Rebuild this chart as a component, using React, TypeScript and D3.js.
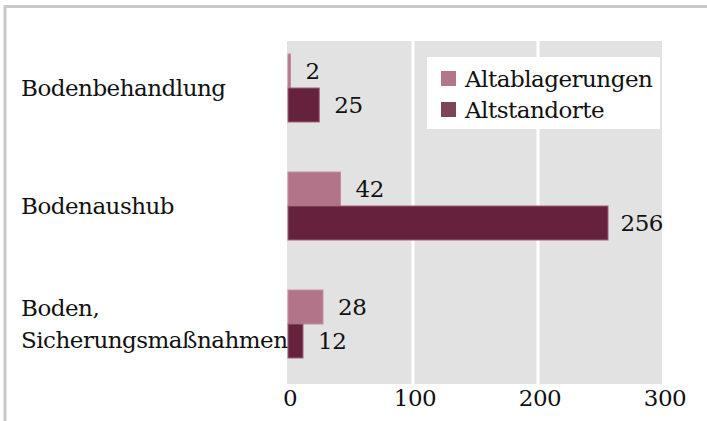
import React from "react";
import * as d3 from "d3";

const categories = ["Bodenbehandlung", "Bodenaushub", "Boden,\nSicherungsmaßnahmen"];
const seriesNames = ["Altablagerungen", "Altstandorte"];
const altablagerungen = [2, 42, 28];
const altstandorte = [25, 256, 12];
const xTicks = [0, 100, 200, 300];

const W = 707;
const H = 421;
const FONT = "'DejaVu Serif', serif";
const FS = 23;
const LS = -0.5;

const barColors = ["#b27488", "#66223d"];
const barStrokes = ["#c48ea0", "#9a6078"];
const legendColors = ["#b3758a", "#7e4559"];

export default function App() {
  const plot = { left: 287, right: 662, top: 41, bottom: 384 };
  const x = d3.scaleLinear().domain([0, 300]).range([288, 663]);
  const y = d3
    .scaleBand<string>()
    .domain(categories)
    .range([29, 383])
    .paddingInner(0.424)
    .paddingOuter(0.212);
  const sub = d3.scaleBand<string>().domain(seriesNames).range([0, y.bandwidth()]);
  const series = [altablagerungen, altstandorte];

  const labelX = (v: number) => {
    const w = String(v).length * (FS * 0.636 + LS);
    const start = x(v) + 15;
    if (start + w > plot.right + 1) return { xx: plot.right + 1, anchor: "end" as const };
    return { xx: start, anchor: "start" as const };
  };

  return (
    <svg
      width={W}
      height={H}
      style={{ position: "absolute", left: 0, top: 0, background: "#fff" }}
      fontFamily={FONT}
      letterSpacing={LS}
    >
      <rect x={5} y={6.5} width={W + 20} height={H + 20} fill="none" stroke="#c9c9c9" strokeWidth={3} />
      <rect x={plot.left} y={plot.top} width={plot.right - plot.left} height={plot.bottom - plot.top} fill="#e2e2e2" />
      {xTicks.slice(1, -1).map((t) => (
        <line key={t} x1={x(t)} x2={x(t)} y1={plot.top} y2={plot.bottom} stroke="#fff" strokeWidth={3} />
      ))}
      {categories.map((c, ci) =>
        series.map((vals, si) => {
          const v = vals[ci];
          const y0 = (y(c) as number) + (sub(seriesNames[si]) as number);
          const bh = sub.bandwidth();
          const lab = labelX(v);
          return (
            <g key={c + si}>
              <rect
                x={x(0)}
                y={y0}
                width={x(v) - x(0)}
                height={bh}
                fill={barColors[si]}
                stroke={barStrokes[si]}
                strokeWidth={1}
              />
              <text x={lab.xx} y={y0 + bh / 2} dy="0.36em" fontSize={FS} textAnchor={lab.anchor} fill="#111">
                {v}
              </text>
            </g>
          );
        })
      )}
      {categories.map((c) => {
        const lines = c.split("\n");
        const cy = (y(c) as number) + y.bandwidth() / 2;
        const lh = 32;
        return (
          <text key={c} x={21} fontSize={FS} fill="#111">
            {lines.map((l, i) => (
              <tspan key={i} x={21} y={cy + (i - (lines.length - 1) / 2) * lh} dy="0.36em">
                {l}
              </tspan>
            ))}
          </text>
        );
      })}
      {xTicks.map((t) => (
        <text key={t} x={x(t) + 2} y={406} fontSize={FS} textAnchor="middle" fill="#111">
          {t}
        </text>
      ))}
      <rect x={427} y={57} width={233} height={72} fill="#fff" />
      {seriesNames.map((s, i) => (
        <g key={s} transform={`translate(441, ${71 + i * 31})`}>
          <rect x={0} y={0} width={15} height={15} fill={legendColors[i]} />
          <text x={24} y={7.5} dy="0.36em" fontSize={FS} fill="#111">
            {s}
          </text>
        </g>
      ))}
    </svg>
  );
}
